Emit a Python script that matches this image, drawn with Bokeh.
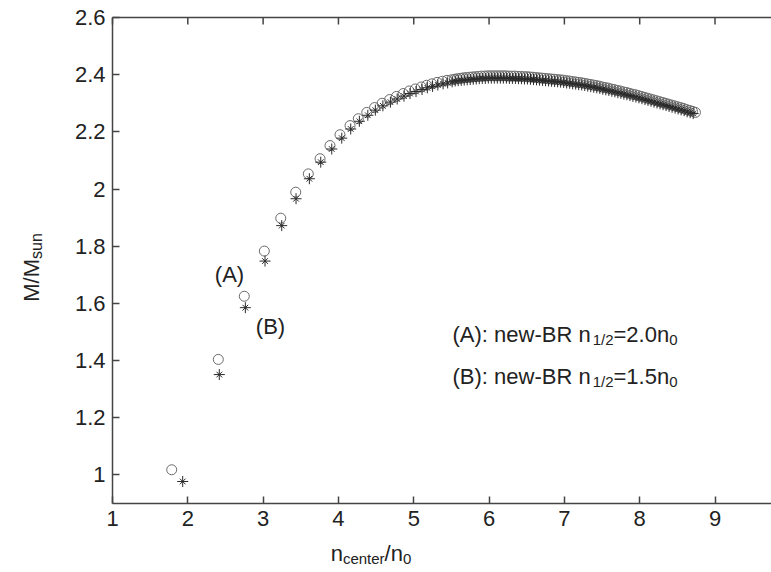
import math
from bokeh.plotting import figure
from bokeh.models import Range1d, FixedTicker, Label
from bokeh.embed import file_html
from bokeh.resources import INLINE

# ---------------- data ----------------
# (A): new-BR n_1/2 = 2.0 n0  (open circles)
n_a = [1.786, 2.405, 2.750, 3.016, 3.234, 3.433, 3.600, 3.756, 3.888, 4.021,
       4.154, 4.264, 4.376, 4.48, 4.58, 4.68, 4.77, 4.86, 4.94, 5.02,
       5.10, 5.17, 5.24, 5.31, 5.38, 5.44,
       5.50, 5.54, 5.58, 5.62, 5.66, 5.70, 5.74, 5.78, 5.82, 5.86,
       5.90, 5.94, 5.98, 6.02, 6.06, 6.10, 6.14, 6.18, 6.22, 6.26,
       6.30, 6.34, 6.38, 6.42, 6.46, 6.50, 6.54, 6.58, 6.62, 6.66,
       6.70, 6.74, 6.78, 6.82, 6.86, 6.90, 6.94, 6.98, 7.02, 7.06,
       7.10, 7.14, 7.18, 7.22, 7.26, 7.30, 7.34, 7.38, 7.42, 7.46,
       7.50, 7.54, 7.58, 7.62, 7.66, 7.70, 7.74, 7.78, 7.82, 7.86,
       7.90, 7.94, 7.98, 8.02, 8.06, 8.10, 8.14, 8.18, 8.22, 8.26,
       8.30, 8.34, 8.38, 8.42, 8.46, 8.50, 8.54, 8.58, 8.62, 8.66,
       8.70, 8.74]
m_a = [1.018, 1.404, 1.625, 1.783, 1.898, 1.989, 2.053, 2.106, 2.152, 2.190,
       2.222, 2.246, 2.268, 2.285, 2.300, 2.313, 2.324, 2.334, 2.343, 2.350,
       2.357, 2.363, 2.368, 2.373, 2.377, 2.380,
       2.382, 2.384, 2.386, 2.387, 2.389, 2.390, 2.391, 2.392, 2.393, 2.394,
       2.395, 2.395, 2.396, 2.396, 2.396, 2.396, 2.396, 2.396, 2.396, 2.395,
       2.395, 2.395, 2.394, 2.394, 2.393, 2.393, 2.392, 2.391, 2.390, 2.389,
       2.388, 2.387, 2.386, 2.385, 2.384, 2.383, 2.382, 2.381, 2.379, 2.378,
       2.376, 2.375, 2.373, 2.372, 2.370, 2.368, 2.366, 2.364, 2.362, 2.360,
       2.357, 2.355, 2.353, 2.350, 2.348, 2.345, 2.343, 2.340, 2.338, 2.335,
       2.332, 2.330, 2.327, 2.324, 2.321, 2.318, 2.315, 2.312, 2.309, 2.306,
       2.303, 2.300, 2.297, 2.294, 2.291, 2.288, 2.285, 2.282, 2.278, 2.275,
       2.272, 2.268]

# (B): new-BR n_1/2 = 1.5 n0  (asterisks)
n_b = [1.932, 2.418, 2.764, 3.025, 3.247, 3.437, 3.614, 3.765, 3.911, 4.044,
       4.163, 4.278, 4.39, 4.49, 4.59, 4.69, 4.78, 4.87, 4.95, 5.03,
       5.11, 5.18, 5.25, 5.32, 5.39, 5.45, 5.51,
       5.55, 5.59, 5.63, 5.67, 5.71, 5.75, 5.79, 5.83, 5.87, 5.91,
       5.95, 5.99, 6.03, 6.07, 6.11, 6.15, 6.19, 6.23, 6.27, 6.31,
       6.35, 6.39, 6.43, 6.47, 6.51, 6.55, 6.59, 6.63, 6.67, 6.71,
       6.75, 6.79, 6.83, 6.87, 6.91, 6.95, 6.99, 7.03, 7.07, 7.11,
       7.15, 7.19, 7.23, 7.27, 7.31, 7.35, 7.39, 7.43, 7.47, 7.51,
       7.55, 7.59, 7.63, 7.67, 7.71, 7.75, 7.79, 7.83, 7.87, 7.91,
       7.95, 7.99, 8.03, 8.07, 8.11, 8.15, 8.19, 8.23, 8.27, 8.31,
       8.35, 8.39, 8.43, 8.47, 8.51, 8.55, 8.59, 8.63, 8.67, 8.71]
m_b = [0.977, 1.351, 1.585, 1.748, 1.872, 1.966, 2.036, 2.094, 2.140, 2.178,
       2.210, 2.237, 2.258, 2.276, 2.291, 2.304, 2.315, 2.325, 2.334, 2.341,
       2.348, 2.354, 2.359, 2.364, 2.368, 2.371, 2.375,
       2.378, 2.379, 2.380, 2.381, 2.382, 2.383, 2.384, 2.385, 2.386, 2.387,
       2.387, 2.388, 2.388, 2.388, 2.388, 2.388, 2.388, 2.388, 2.387, 2.387,
       2.387, 2.386, 2.386, 2.385, 2.385, 2.384, 2.383, 2.382, 2.381, 2.380,
       2.379, 2.378, 2.377, 2.376, 2.375, 2.374, 2.373, 2.371, 2.370, 2.368,
       2.367, 2.365, 2.364, 2.362, 2.360, 2.358, 2.356, 2.354, 2.352, 2.349,
       2.347, 2.345, 2.342, 2.340, 2.337, 2.335, 2.332, 2.330, 2.327, 2.324,
       2.322, 2.319, 2.316, 2.313, 2.310, 2.307, 2.304, 2.301, 2.298, 2.295,
       2.292, 2.289, 2.286, 2.283, 2.280, 2.277, 2.274, 2.270, 2.267, 2.264]

x_ticks = [1, 2, 3, 4, 5, 6, 7, 8, 9]
x_tick_labels = ["1", "2", "3", "4", "5", "6", "7", "8", "9"]
y_ticks = [1.0, 1.2, 1.4, 1.6, 1.8, 2.0, 2.2, 2.4, 2.6]
y_tick_labels = ["1", "1.2", "1.4", "1.6", "1.8", "2", "2.2", "2.4", "2.6"]

label_a = ("(A): new-BR n", "1/2", "=2.0n", "0")
label_b = ("(B): new-BR n", "1/2", "=1.5n", "0")
x_title = ("n", "center", "/n", "0")
y_title = ("M/M", "sun")

# ---------------- layout ----------------
W, H = 771, 572
FL, FR, FT, FB = 112, 771, 17, 503          # plot box in pixels
X0, X1, Y0, Y1 = 1.0, 9.75, 0.9, 2.6        # data limits of the box

FONT = "Liberation Sans"
TXT = "#222222"
AX = "#444444"
MAIN, SUB = 22, 15
TICK = 7

ARIAL = {' ': 278, '(': 333, ')': 333, ':': 278, '-': 333, '.': 278, '/': 278,
         '=': 584, 'A': 667, 'B': 667, 'M': 833, 'R': 722, 'c': 500, 'e': 556,
         'n': 556, 'r': 333, 's': 500, 't': 278, 'u': 556, 'w': 722}
for d in "0123456789":
    ARIAL[d] = 556


def tw(s, size):
    return sum(ARIAL[c] for c in s) * size / 1000.0


KX = (X1 - X0) / (FR - FL)
KY = (Y1 - Y0) / (FB - FT)


def dx(px):
    return X0 + (px - FL) * KX


def dy(py):
    return Y0 + (FB - py) * KY


# the frame covers the whole canvas; axes are pinned at the box edges
p = figure(width=W, height=H, output_backend="svg", toolbar_location=None,
           title=None, x_range=Range1d(dx(0), dx(W)), y_range=Range1d(dy(H), dy(0)),
           min_border=0)
p.xgrid.visible = False
p.ygrid.visible = False
p.outline_line_color = None
p.background_fill_color = "white"
p.border_fill_color = "white"


def style_axis(ax):
    ax.major_tick_in = TICK
    ax.major_tick_out = 0
    ax.minor_tick_line_color = None
    ax.axis_line_color = AX
    ax.axis_line_width = 1.5
    ax.major_tick_line_color = AX
    ax.major_tick_line_width = 1.5
    ax.major_label_text_font = FONT
    ax.major_label_text_font_size = f"{MAIN}px"
    ax.major_label_text_color = TXT
    ax.major_label_standoff = 7


xa = p.xaxis[0]
ya = p.yaxis[0]
style_axis(xa)
style_axis(ya)
xa.fixed_location = Y0
xa.bounds = (X0, X1)
ya.fixed_location = X0
ya.bounds = (Y0, Y1)
xa.ticker = FixedTicker(ticks=x_ticks)
xa.major_label_overrides = dict(zip(x_ticks, x_tick_labels))
ya.ticker = FixedTicker(ticks=y_ticks)
ya.major_label_overrides = dict(zip(y_ticks, y_tick_labels))

# top border with inward ticks
p.segment(x0=[X0], y0=[Y1], x1=[X1], y1=[Y1], line_color=AX, line_width=1.5)
p.segment(x0=x_ticks, y0=[Y1] * len(x_ticks), x1=x_ticks,
          y1=[Y1 - TICK * KY] * len(x_ticks), line_color=AX, line_width=1.5)

# ---------------- marks ----------------
p.scatter(n_a, m_a, marker="circle", size=10, fill_color=None,
          line_color="#6a6a6a", line_width=1)
p.scatter(n_b, m_b, marker="cross", size=11, line_color="#2a2a2a", line_width=1)
p.scatter(n_b, m_b, marker="x", size=8, line_color="#2a2a2a", line_width=1)


# ---------------- texts ----------------
def add_text(px, py, text, size, angle=0.0, align="left", baseline="alphabetic"):
    p.add_layout(Label(x=dx(px), y=dy(py), text=text, text_font=FONT,
                       text_font_size=f"{size}px", text_color=TXT,
                       text_align=align, text_baseline=baseline, angle=angle))


def sub_line(px, py, parts, gap=0.0):
    x = px
    for i, s in enumerate(parts):
        if i % 2 == 0:
            add_text(x, py, s, MAIN)
            x += tw(s, MAIN)
        else:
            g = gap if i == 1 else 0
            add_text(x + g, py + 5, s, SUB)
            x += tw(s, SUB) + g


sub_line(452, 334, label_a, gap=2)
sub_line(452, 376, label_b, gap=2)

# x-axis title centred at x ~ 370
xt_w = tw(x_title[0], MAIN) + tw(x_title[1], SUB) + tw(x_title[2], MAIN) + tw(x_title[3], SUB)
sub_line(370.5 - xt_w / 2, 553, x_title)

# y-axis title (rotated), centred at y ~ 267
YS = 16
yt_w = tw(y_title[0], MAIN) + tw(y_title[1], YS)
y_start = 267 + yt_w / 2
add_text(31, y_start, y_title[0], MAIN, angle=math.pi / 2)
add_text(36, y_start - tw(y_title[0], MAIN), y_title[1], YS, angle=math.pi / 2)

# curve annotations
add_text(229, 274, "(A)", MAIN, align="center", baseline="middle")
add_text(270, 326, "(B)", MAIN, align="center", baseline="middle")

open("out.html", "w").write(file_html(p, INLINE))
